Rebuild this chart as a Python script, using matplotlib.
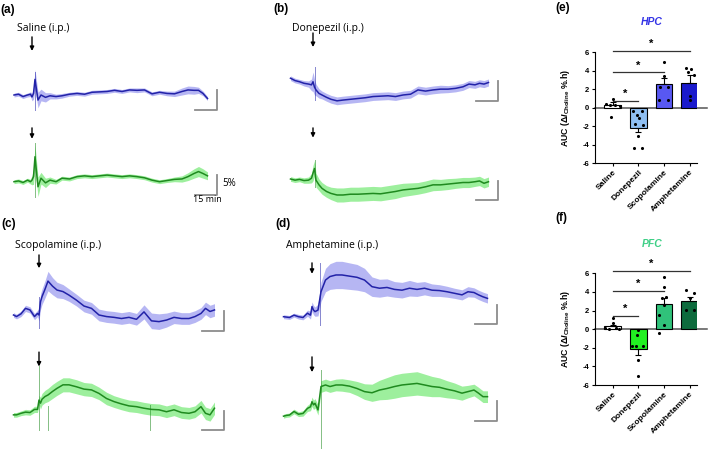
import numpy as np
import matplotlib
matplotlib.use('Agg')
import matplotlib.pyplot as plt

plt.rcParams['font.family'] = ['Liberation Sans', 'DejaVu Sans']
plt.rcParams['mathtext.fontset'] = 'custom'
plt.rcParams['mathtext.rm'] = 'Liberation Sans'
plt.rcParams['mathtext.bf'] = 'Liberation Sans:bold'
plt.rcParams['mathtext.it'] = 'Liberation Sans:italic:bold'

W, H = 709, 455
nan = np.nan

# ---- traces: % change vs time (min) from injection ----
t_min = [-19, -17, -15, -12, -9, -6, -3, -1, 0, 1, 2, 4, 6, 9, 12, 16, 20, 25, 30, 35,
         40, 45, 50, 55, 60, 65, 70, 75, 80, 85, 90, 95, 100, 104, 108, 111, 114, 117]

saline_hpc = [nan, nan, nan, 0.0, 0.2, -0.4, 0.0, 0.2, -0.5, 0.4,
              4.0, -1.3, 0.0, -0.6, -0.2, -0.4, -0.2, 0.2, 0.4, 0.2,
              0.7, 0.8, 0.9, 1.2, 0.9, 1.3, 1.2, 1.3, 0.3, 0.7,
              0.4, 0.3, 0.9, 1.3, 1.2, 1.2, 0.4, -0.9]
saline_hpc_sem = [nan, nan, nan, 0.5, 0.5, 0.5, 0.5, 0.6, 1.0, 1.5,
                  2.5, 2.0, 1.5, 1.2, 0.8, 0.6, 0.6, 0.5, 0.5, 0.5,
                  0.5, 0.5, 0.5, 0.5, 0.5, 0.5, 0.6, 0.5, 0.5, 0.5,
                  0.6, 0.7, 0.9, 1.0, 1.0, 0.8, 0.6, 0.5]
saline_pfc = [nan, nan, nan, 0.0, 0.2, -0.2, 0.4, 0.0, 0.4, 1.3,
              6.4, -1.3, 0.9, -0.3, 0.4, 0.0, 0.9, 0.7, 1.3, 1.5,
              1.3, 1.5, 1.7, 1.5, 1.3, 1.5, 1.3, 1.0, 0.4, 0.0,
              0.3, 0.6, 0.7, 1.3, 2.1, 2.6, 2.1, 1.5]
saline_pfc_sem = [nan, nan, nan, 0.5, 0.5, 0.5, 0.5, 0.6, 1.2, 2.0,
                  3.0, 2.5, 1.5, 1.2, 0.8, 0.6, 0.5, 0.5, 0.5, 0.5,
                  0.5, 0.5, 0.5, 0.5, 0.5, 0.5, 0.5, 0.5, 0.5, 0.5,
                  0.5, 0.6, 0.8, 1.0, 1.2, 1.3, 1.2, 1.0]

donepezil_hpc = [nan, nan, 0.2, -0.4, -0.7, -1.1, -1.3, -1.5, -0.7, -2.1,
                 -2.8, -3.7, -4.1, -4.7, -5.2, -5.6, -5.4, -5.2, -5.0, -4.8,
                 -4.5, -4.4, -4.3, -4.5, -4.1, -3.9, -2.8, -3.1, -2.8, -2.6,
                 -2.6, -2.4, -2.0, -1.3, -1.5, -1.1, -1.3, -0.9]
donepezil_hpc_sem = [nan, nan, 0.6, 0.6, 0.6, 0.7, 0.8, 1.5, 2.5, 2.0,
                     1.5, 1.2, 1.0, 1.0, 1.0, 1.0, 1.0, 1.0, 1.0, 1.0,
                     1.0, 1.0, 1.0, 1.0, 1.0, 1.0, 1.0, 1.0, 1.0, 1.0,
                     0.9, 0.9, 0.9, 0.9, 0.9, 0.9, 0.9, 0.9]
donepezil_pfc = [nan, nan, 0.0, -0.3, -0.1, -0.4, -0.3, 0.2, 1.5, 2.7,
                 -0.3, -1.5, -2.4, -3.2, -3.7, -4.1, -4.1, -3.9, -3.9, -3.8,
                 -3.7, -3.8, -3.5, -3.2, -2.8, -2.6, -2.4, -2.0, -1.5, -1.5,
                 -1.3, -1.1, -0.9, -0.9, -0.7, -0.5, -1.1, -0.7]
donepezil_pfc_sem = [nan, nan, 0.6, 0.6, 0.6, 0.7, 0.8, 1.2, 2.0, 2.0,
                     1.8, 1.5, 1.5, 1.5, 1.6, 1.8, 1.8, 1.8, 1.8, 1.8,
                     1.8, 1.8, 1.8, 1.8, 1.7, 1.6, 1.5, 1.5, 1.5, 1.4,
                     1.4, 1.3, 1.3, 1.3, 1.2, 1.2, 1.2, 1.2]

scopolamine_hpc = [nan, 0.0, -0.4, 0.3, 1.7, 1.3, -0.4, 0.4, 0.0, 3.4,
                   4.7, 6.6, 8.7, 7.4, 6.4, 6.0, 5.1, 3.8, 2.3, 1.7,
                   0.0, -0.4, -0.6, -0.9, -0.6, -1.1, 0.8, -1.5, -1.7, -1.3,
                   -0.6, -0.9, -0.9, -0.4, 0.4, 1.7, 0.9, 1.3]
scopolamine_hpc_sem = [nan, 0.6, 0.6, 0.7, 0.8, 0.8, 0.8, 0.8, 1.5, 2.0,
                       2.0, 2.2, 2.5, 2.2, 2.0, 1.8, 1.6, 1.5, 1.5, 1.5,
                       1.5, 1.5, 1.5, 1.5, 1.5, 1.5, 1.8, 2.0, 2.0, 1.8,
                       1.6, 1.5, 1.5, 1.5, 1.5, 1.6, 1.6, 1.6]
scopolamine_pfc = [nan, -0.4, -0.4, 0.0, 0.3, 0.2, 1.0, 1.0, 3.4, 2.6,
                   3.6, 4.3, 4.7, 5.6, 6.4, 7.3, 7.3, 6.8, 6.2, 6.0,
                   5.1, 3.8, 3.0, 2.4, 1.9, 1.7, 1.3, 1.0, 0.9, 0.4,
                   0.9, 0.2, 0.0, 0.4, 1.7, 0.0, -0.4, 1.3]
scopolamine_pfc_sem = [nan, 0.6, 0.6, 0.6, 0.7, 0.7, 0.8, 0.8, 1.2, 1.5,
                       1.5, 1.6, 1.7, 1.8, 1.8, 1.8, 1.8, 1.8, 1.7, 1.7,
                       1.6, 1.6, 1.5, 1.5, 1.5, 1.5, 1.5, 1.5, 1.5, 1.5,
                       1.5, 1.5, 1.5, 1.5, 1.6, 1.6, 1.6, 1.6]

amphetamine_hpc = [0.0, -0.1, -0.2, 0.4, 0.0, -0.2, 0.9, 0.4, 2.6, 1.7,
                   1.3, 1.7, 6.4, 9.4, 10.3, 10.7, 10.7, 10.4, 10.1, 9.4,
                   7.7, 7.3, 7.5, 7.0, 6.8, 7.3, 7.0, 7.3, 6.8, 6.7,
                   6.4, 6.0, 5.6, 6.4, 6.2, 5.6, 5.1, 4.7]
amphetamine_hpc_sem = [0.5, 0.5, 0.5, 0.5, 0.6, 0.6, 0.8, 1.0, 1.2, 1.2,
                       1.2, 1.5, 2.5, 3.0, 3.3, 3.5, 3.5, 3.4, 3.3, 3.0,
                       2.5, 2.3, 2.2, 2.0, 2.0, 2.0, 1.8, 1.7, 1.6, 1.5,
                       1.4, 1.3, 1.3, 1.3, 1.2, 1.2, 1.2, 1.2]
amphetamine_pfc = [-0.3, -0.1, 0.0, 0.9, 0.2, 0.4, 1.7, 2.1, 3.4, 2.6,
                   3.0, 1.3, 7.3, 7.7, 7.3, 7.7, 7.7, 7.4, 6.8, 6.0,
                   5.7, 6.4, 6.8, 7.3, 7.7, 7.9, 8.1, 7.7, 7.3, 7.1,
                   6.6, 6.2, 5.6, 6.0, 6.4, 5.6, 4.7, 4.7]
amphetamine_pfc_sem = [0.5, 0.5, 0.5, 0.6, 0.6, 0.7, 0.8, 1.0, 1.2, 1.2,
                       1.2, 1.3, 1.5, 1.5, 1.5, 1.5, 1.6, 1.6, 1.8, 2.0,
                       2.2, 2.5, 2.8, 3.0, 3.0, 3.0, 3.0, 2.8, 2.6, 2.4,
                       2.2, 2.0, 1.8, 1.6, 1.5, 1.5, 1.5, 1.5]

# injection artefacts: (time, low %, high %)
saline_hpc_art = [(2, -3.8, 6.0)]
saline_pfc_art = [(2, -3.8, 9.9)]
donepezil_hpc_art = [(1, -5.4, 3.2)]
donepezil_pfc_art = [(1, -2.0, 4.9)]
scopolamine_hpc_art = [(0, -3.4, 4.7)]
scopolamine_pfc_art = [(0, -4.3, 12.1), (6, -4.3, 2.0), (74, -4.3, 2.1)]
amphetamine_hpc_art = [(5, -2.1, 13.8)]
amphetamine_pfc_art = [(6, -8.5, 11.5)]

# ---- AUC bar charts ----
groups = ['Saline', 'Donepezil', 'Scopolamine', 'Amphetamine']
hpc_mean = [0.35, -2.15, 2.52, 2.7]
hpc_sem = [0.25, 0.5, 0.72, 0.8]
hpc_dots = [[0.97, 0.45, 0.35, 0.3, 0.15, -0.95],
            [-0.32, -0.32, -0.8, -1.15, -1.77, -1.87, -3.1, -4.3, -4.3],
            [4.9, 3.4, 2.3, 2.2, 0.8, 0.8],
            [4.3, 4.2, 3.9, 3.6, 1.3, 0.8]]
pfc_mean = [0.3, -2.1, 2.65, 3.0]
pfc_sem = [0.18, 0.7, 0.7, 0.45]
pfc_dots = [[1.2, 0.7, 0.1, 0.05, 0.1, 0.0],
            [-0.1, -0.6, -1.8, -1.8, -1.8, -3.3, -5.0],
            [5.6, 4.55, 3.3, 3.45, 2.6, 1.5, 0.4, -0.45],
            [4.2, 3.84, 3.3, 2.1, 2.1]]
hpc_sig = [0.72, 3.82, 6.13]
pfc_sig = [1.43, 4.12, 6.27]

# horizontal jitter of the dots (layout only)
hpc_jit = [[0.0, -0.25, -0.1, 0.1, 0.3, -0.05],
           [-0.2, 0.13, -0.04, 0.04, -0.13, 0.17, 0.0, -0.16, 0.13],
           [0.0, 0.0, -0.15, 0.15, -0.2, 0.17],
           [-0.13, 0.05, -0.05, 0.15, 0.0, 0.0]]
pfc_jit = [[0.0, 0.0, -0.3, -0.13, 0.13, 0.26],
           [0.0, -0.05, -0.26, -0.09, 0.17, 0.0, 0.0],
           [0.0, 0.0, -0.07, 0.07, 0.0, -0.2, 0.0, -0.2],
           [-0.13, 0.16, 0.0, -0.13, 0.16]]

HPC_LINE, HPC_BAND = '#2222a8', '#aaaaf2'
PFC_LINE, PFC_BAND = '#1f8a1f', '#8ced8c'

fig = plt.figure(figsize=(W / 100, H / 100), dpi=100)


def px_axes(x0, y0, x1, y1):
    return fig.add_axes([x0 / W, 1 - y1 / H, (x1 - x0) / W, (y1 - y0) / H])


def ftxt(x, y, s, **kw):
    return fig.text(x / W, 1 - y / H, s, **kw)


PX_MIN, PX_PCT = 1.5, 3.9
T0, T1, Y0, Y1 = -20, 126, -10, 16


def draw_trace(arrow_x, base_y, y, sem, art, line_c, band_c, bar_y, arrow_y):
    ax = px_axes(arrow_x + T0 * PX_MIN, base_y - Y1 * PX_PCT,
                 arrow_x + T1 * PX_MIN, base_y - Y0 * PX_PCT)
    ax.set_xlim(T0, T1)
    ax.set_ylim(Y0, Y1)
    ax.axis('off')
    t = np.array(t_min)
    y = np.array(y)
    s = np.array(sem)
    ax.fill_between(t, y - s, y + s, color=band_c, lw=0, alpha=0.85)
    for ta, lo, hi in art:
        ax.plot([ta, ta], [lo, hi], color=line_c, lw=0.7, alpha=0.55)
    ax.plot(t, y, color=line_c, lw=1.1)
    # scale bar: 15 min x 5 %
    ax.plot([108.5, 123.5, 123.5], [bar_y, bar_y, bar_y + 5], color='#8c8c8c', lw=1.3,
            clip_on=False)
    ax.annotate('', xy=(0, arrow_y[1]), xytext=(0, arrow_y[0]),
                arrowprops=dict(arrowstyle='-|>', color='black', lw=1.0,
                                mutation_scale=6, shrinkA=0, shrinkB=0))
    return ax


draw_trace(32, 95, saline_hpc, saline_hpc_sem, saline_hpc_art, HPC_LINE, HPC_BAND, -3.8, (14.9, 11.3))
draw_trace(32, 181.7, saline_pfc, saline_pfc_sem, saline_pfc_art, PFC_LINE, PFC_BAND, -3.4, (13.8, 11.0))
draw_trace(313, 79, donepezil_hpc, donepezil_hpc_sem, donepezil_hpc_art, HPC_LINE, HPC_BAND, -5.6, (11.8, 8.2))
draw_trace(313, 179, donepezil_pfc, donepezil_pfc_sem, donepezil_pfc_art, PFC_LINE, PFC_BAND, -5.5, (13.1, 10.6))
draw_trace(39, 315, scopolamine_hpc, scopolamine_hpc_sem, scopolamine_hpc_art, HPC_LINE, HPC_BAND, -4.0, (15.4, 12.0))
draw_trace(39, 413.3, scopolamine_pfc, scopolamine_pfc_sem, scopolamine_pfc_art, PFC_LINE, PFC_BAND, -4.3, (15.7, 12.0))
draw_trace(312, 316.7, amphetamine_hpc, amphetamine_hpc_sem, amphetamine_hpc_art, HPC_LINE, HPC_BAND, -1.9, (13.8, 11.0))
draw_trace(312, 415, amphetamine_pfc, amphetamine_pfc_sem, amphetamine_pfc_art, PFC_LINE, PFC_BAND, -1.5, (14.9, 11.0))

lab = dict(fontsize=8.5, fontweight='bold', va='center', ha='left')
ftxt(0, 10, '(a)', **lab)
ftxt(273, 9, '(b)', **lab)
ftxt(1, 224, '(c)', **lab)
ftxt(275, 224, '(d)', **lab)
ftxt(555, 8, '(e)', **lab)
ftxt(555, 218, '(f)', **lab)

drug = dict(fontsize=7.5, va='center', ha='left', family='Open Sans')
ftxt(17, 28, 'Saline (i.p.)', **drug)
ftxt(292, 28, 'Donepezil (i.p.)', **drug)
ftxt(15, 246, 'Scopolamine (i.p.)', **drug)
ftxt(286, 246, 'Amphetamine (i.p.)', **drug)
ftxt(222, 184, '5%', fontsize=7, va='center', ha='left', family='Open Sans')
ftxt(207, 200, '15 min', fontsize=6.5, va='center', ha='center', family='Open Sans')


def draw_bars(top, bottom, mean, sem, dots, jit, colors, sig, title, title_c, title_y):
    ax = px_axes(595, top, 697, bottom)
    x = np.arange(len(groups))
    ax.set_xlim(-0.691, 3.285)
    ax.set_ylim(-6, 6)
    ax.bar(x, mean, width=0.65, color=colors, edgecolor='black', lw=0.8, zorder=2)
    lo = [s if m < 0 else 0 for m, s in zip(mean, sem)]
    hi = [s if m >= 0 else 0 for m, s in zip(mean, sem)]
    ax.errorbar(x, mean, yerr=[lo, hi], fmt='none', ecolor='black', elinewidth=0.8,
                capsize=2.2, capthick=0.8, zorder=3)
    for i in range(len(groups)):
        ax.scatter(i + np.array(jit[i]), dots[i], s=5, color='black', linewidths=0, zorder=4)
    ax.axhline(0, xmin=0, xmax=1.1, color='#555555', lw=1.1, clip_on=False, zorder=1)
    for j, target in enumerate([1, 2, 3]):
        ax.plot([0, target], [sig[j], sig[j]], color='#333333', lw=0.9, clip_on=False)
        ax.text(target / 2, sig[j] + 0.75, '*', ha='center', va='center', fontsize=8,
                fontweight='bold', clip_on=False)
    ax.spines[['top', 'right']].set_visible(False)
    for sp in ['left', 'bottom']:
        ax.spines[sp].set_linewidth(0.8)
    ax.set_yticks([-6, -4, -2, 0, 2, 4, 6])
    ax.set_yticklabels(['-6', '-4', '-2', '0', '2', '4', '6'], fontsize=5.5, fontweight='bold')
    ax.set_xticks(x)
    ax.set_xticklabels(groups, rotation=45, ha='right', rotation_mode='anchor',
                       fontsize=6, fontweight='bold')
    ax.tick_params(length=2.5, width=0.8, pad=1.5)
    ax.set_ylabel(r'AUC ($\mathbf{\Delta}\mathit{I}_{\mathbf{Choline}}$ %.h)', fontsize=6.3,
                  fontweight='bold')
    ax.yaxis.set_label_coords(-0.228, 0.5)
    ftxt(652, title_y, title, ha='center', va='center', fontsize=7.5, fontweight='bold',
         style='italic', color=title_c)
    return ax


draw_bars(52.3, 163.3, hpc_mean, hpc_sem, hpc_dots, hpc_jit,
          ['white', '#8fbff2', '#5858f2', '#1a1acc'], hpc_sig, 'HPC', '#3434e6', 22)
draw_bars(273.3, 385, pfc_mean, pfc_sem, pfc_dots, pfc_jit,
          ['white', '#22f022', '#30c27a', '#0d6b3d'], pfc_sig, 'PFC', '#3ecf86', 244)

fig.savefig('out.png', dpi=100)
